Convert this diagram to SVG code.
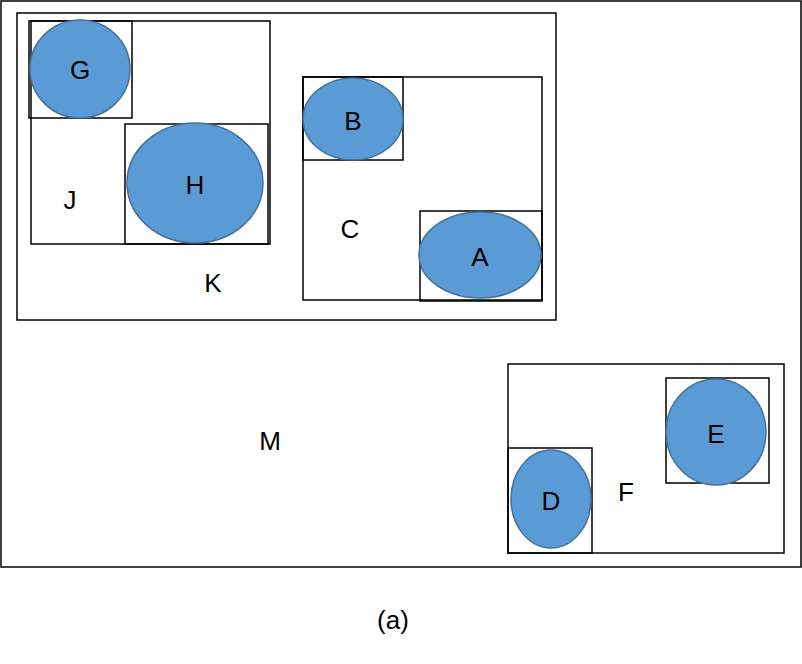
<svg xmlns="http://www.w3.org/2000/svg" width="802" height="664" viewBox="0 0 802 664">
<style>
.b{fill:none;stroke:#000;stroke-width:1.5}
.c{fill:#5B9BD5;stroke:#41719C;stroke-width:1.5}
text{font-family:"Liberation Sans",Arial,sans-serif;font-size:26px;fill:#000;text-anchor:middle;dominant-baseline:central}
</style>
<rect width="802" height="664" fill="#fff"/>
<g id="M"><rect class="b" x="1" y="1" width="800" height="566"/><text x="270" y="441">M</text></g>
<g id="K"><rect class="b" x="17" y="13" width="539" height="307"/><text x="213" y="283">K</text></g>
<g id="J"><rect class="b" x="31" y="21" width="239" height="223"/><text x="70" y="200">J</text></g>
<g id="G"><rect class="b" x="29" y="21" width="103" height="97"/><ellipse class="c" cx="80" cy="69" rx="50" ry="49"/><text x="80" y="70">G</text></g>
<g id="H"><rect class="b" x="125" y="124" width="143" height="120"/><ellipse class="c" cx="195" cy="183" rx="68" ry="60"/><text x="195" y="185">H</text></g>
<g id="C"><rect class="b" x="303" y="77" width="239" height="223"/><text x="350" y="229">C</text></g>
<g id="B"><rect class="b" x="303" y="77" width="100" height="83"/><ellipse class="c" cx="353" cy="119" rx="50" ry="41"/><text x="353" y="121">B</text></g>
<g id="A"><rect class="b" x="420" y="211" width="122" height="90"/><ellipse class="c" cx="480" cy="255" rx="61" ry="43"/><text x="480" y="257">A</text></g>
<g id="F"><rect class="b" x="508" y="364" width="276" height="189"/><text x="626" y="492">F</text></g>
<g id="E"><rect class="b" x="666" y="378" width="103" height="105"/><ellipse class="c" cx="716" cy="432" rx="50" ry="53"/><text x="716" y="434">E</text></g>
<g id="D"><rect class="b" x="508" y="448" width="84" height="105"/><ellipse class="c" cx="551" cy="499" rx="40" ry="49"/><text x="551" y="501">D</text></g>
<g id="connectors"></g>
<text x="393" y="620">(a)</text>
</svg>
